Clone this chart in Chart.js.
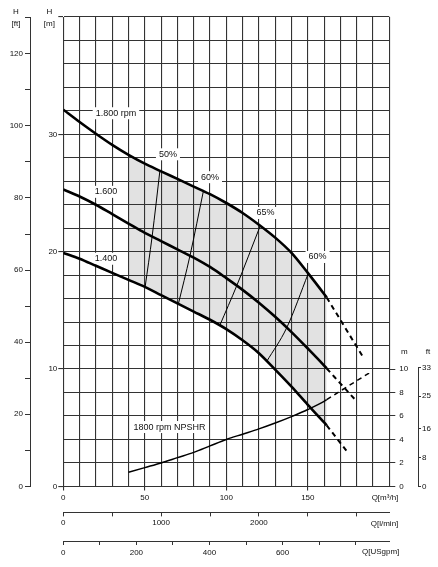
<!DOCTYPE html>
<html>
<head>
<meta charset="utf-8">
<title>Pump curves</title>
<script src="https://cdn.jsdelivr.net/npm/chart.js@4.4.1/dist/chart.umd.min.js"></script>
<style>
    html, body { margin: 0; padding: 0; background: #fff; }
    #pumpChart { display: block; }
</style>
</head>
<body>
<canvas id="pumpChart" width="438" height="567"></canvas>
<script>
// Flow points (m3/h) shared by the three speed curves, solid part
const qPoints = [0, 10, 20, 30, 40, 50, 60, 70, 80, 90, 100, 110, 120, 130, 140, 150, 160, 161.6];
const head1800 = [32.1, 31.05, 30.05, 29.1, 28.25, 27.5, 26.85, 26.2, 25.55, 24.9, 24.15, 23.3, 22.3, 21.2, 19.9, 18.2, 16.4, 16.1];
const head1600 = [25.3, 24.7, 24.0, 23.2, 22.4, 21.6, 20.9, 20.2, 19.5, 18.7, 17.75, 16.75, 15.65, 14.45, 13.15, 11.75, 10.3, 10.05];
const head1400 = [19.9, 19.4, 18.8, 18.2, 17.6, 17.0, 16.3, 15.6, 14.9, 14.2, 13.4, 12.45, 11.35, 9.95, 8.5, 6.95, 5.45, 5.2];

// Dashed extensions
const dashQ1800 = [161.6, 184];
const dashH1800 = [16.1, 11.0];
const dashQ1600 = [161.6, 179];
const dashH1600 = [10.05, 7.4];
const dashQ1400 = [161.6, 173.9];
const dashH1400 = [5.2, 3.0];

// NPSHR at 1800 rpm (m)
const npshQ = [40, 50, 60, 70, 80, 90, 100, 110, 120, 130, 140, 150, 160, 161.6];
const npshH = [1.2, 1.6, 2.0, 2.45, 2.9, 3.45, 4.0, 4.45, 4.9, 5.4, 5.95, 6.55, 7.25, 7.4];
const npshDashQ = [161.6, 189.2];
const npshDashH = [7.4, 9.8];

// Efficiency lines (from 1.400 curve up to 1.800 curve)
const eff50Q = [50.2, 54.5, 59.3];
const eff50H = [17.0, 21.3, 26.95];
const eff60aQ = [70.6, 77.7, 86];
const eff60aH = [15.55, 19.65, 25.2];
const eff65Q = [96.1, 106.4, 120.8];
const eff65H = [13.75, 17.1, 22.2];
const eff60bQ = [124.8, 137, 150.3];
const eff60bH = [10.65, 13.5, 18.15];

// Shaded working range
const shadeFrom = 40;

// Tick values
const lminTicks = [0, 500, 1000, 1500, 2000, 2500, 3000];
const gpmTicks = [0, 100, 200, 300, 400, 500, 600, 700, 800];
const npshMTicks = [0, 2, 4, 6, 8, 10];
const npshFtTicks = [0, 8, 16, 25, 33];

// Text labels on the chart (data coordinates)
const curveLabels = [
    { text: '1.800 rpm', q: 32.3, h: 31.8 },
    { text: '1.600', q: 26.2, h: 25.1 },
    { text: '1.400', q: 26.2, h: 19.4 },
    { text: '50%', q: 64.2, h: 28.3 },
    { text: '60%', q: 90.0, h: 26.35 },
    { text: '65%', q: 124.0, h: 23.3 },
    { text: '60%', q: 156.0, h: 19.55 },
    { text: '1800 rpm NPSHR', q: 65.2, h: 5.06 }
];

const INK = '#111';
const GRID = '#333';
const FONT = '"Liberation Sans", Arial, sans-serif';

function pts(qs, hs) {
    return qs.map((q, i) => ({ x: q, y: hs[i] }));
}

function curve(qs, hs, width, dashed) {
    return {
        data: pts(qs, hs),
        borderColor: '#000',
        borderWidth: width,
        borderDash: dashed ? [5, 4] : [],
        pointRadius: 0,
        fill: false,
        tension: 0.4,
        cubicInterpolationMode: 'monotone'
    };
}

// Texts and the short ft line on the right
const pumpTexts = {
    id: 'pumpTexts',
    beforeDatasetsDraw(chart) {
        const { ctx, scales } = chart;
        ctx.save();
        ctx.font = '9px ' + FONT;
        ctx.textAlign = 'center';
        ctx.textBaseline = 'middle';
        curveLabels.forEach(l => {
            const px = scales.x.getPixelForValue(l.q);
            const py = scales.y.getPixelForValue(l.h);
            const w = ctx.measureText(l.text).width;
            ctx.fillStyle = '#fff';
            ctx.fillRect(px - w / 2 - 3, py - 6, w + 6, 12);
            ctx.fillStyle = INK;
            ctx.fillText(l.text, px, py);
        });
        ctx.restore();
    },
    afterDraw(chart) {
        const { ctx, scales } = chart;
        ctx.save();
        ctx.fillStyle = INK;
        ctx.font = '8px ' + FONT;
        ctx.textBaseline = 'middle';

        // left headers
        ctx.textAlign = 'center';
        ctx.fillText('H', scales.yf.right - 14, 12);
        ctx.fillText('[ft]', scales.yf.right - 14, 24);
        ctx.fillText('H', scales.y.right - 14, 12);
        ctx.fillText('[m]', scales.y.right - 14, 24);

        // right headers
        const hy = scales.y.getPixelForValue(11.5);
        ctx.fillText('m', scales.yn.left + 15, hy);
        ctx.fillText('ft', scales.yft.left + 10, hy);

        // flow unit names
        ctx.textAlign = 'right';
        ctx.fillText('Q[m\u00b3/h]', scales.x.right + 9, scales.x.top + 11.5);
        ctx.fillText('Q[l/min]', scales.xl.right + 9, scales.xl.top + 11);
        ctx.fillText('Q[USgpm]', scales.xu.right + 10, scales.xu.top + 11);

        // ft line for the NPSH scale
        const fx = Math.round(scales.yft.left) + 0.5;
        ctx.strokeStyle = GRID;
        ctx.lineWidth = 1;
        ctx.beginPath();
        ctx.moveTo(fx, scales.yft.getPixelForValue(0));
        ctx.lineTo(fx, scales.yft.getPixelForValue(npshFtTicks[npshFtTicks.length - 1]));
        ctx.stroke();
        ctx.restore();
    }
};

function drawPumpChart() {
    const shadeQ = qPoints.filter(q => q >= shadeFrom);
    const shadeTop = head1800.filter((h, i) => qPoints[i] >= shadeFrom);
    const shadeBottom = head1400.filter((h, i) => qPoints[i] >= shadeFrom);

    const datasets = [
        {
            data: pts(shadeQ, shadeTop),
            borderWidth: 0,
            pointRadius: 0,
            backgroundColor: '#e2e2e2',
            fill: '+1',
            tension: 0.4,
            cubicInterpolationMode: 'monotone'
        },
        {
            data: pts(shadeQ, shadeBottom),
            borderWidth: 0,
            pointRadius: 0,
            fill: false,
            tension: 0.4,
            cubicInterpolationMode: 'monotone'
        },
        curve(qPoints, head1800, 2.6, false),
        curve(qPoints, head1600, 2.6, false),
        curve(qPoints, head1400, 2.6, false),
        curve(dashQ1800, dashH1800, 2, true),
        curve(dashQ1600, dashH1600, 2, true),
        curve(dashQ1400, dashH1400, 2, true),
        curve(npshQ, npshH, 1.5, false),
        curve(npshDashQ, npshDashH, 1.5, true),
        curve(eff50Q, eff50H, 1, false),
        curve(eff60aQ, eff60aH, 1, false),
        curve(eff65Q, eff65H, 1, false),
        curve(eff60bQ, eff60bH, 1, false)
    ];

    const tickFont = { family: FONT, size: 8 };
    const hidden = 'rgba(0,0,0,0)';

    new Chart(document.getElementById('pumpChart'), {
        type: 'line',
        data: { datasets: datasets },
        plugins: [pumpTexts],
        options: {
            responsive: false,
            animation: false,
            devicePixelRatio: 1,
            layout: { padding: { top: 17, bottom: 10, left: 0, right: 0 } },
            plugins: {
                legend: { display: false },
                tooltip: { enabled: false },
                filler: { drawTime: 'beforeDraw' }
            },
            scales: {
                x: {
                    type: 'linear', position: 'bottom', min: 0, max: 200, weight: 0,
                    grid: {
                        color: GRID, lineWidth: 1.1, tickLength: 4,
                        tickColor: c => (c.tick && c.tick.value % 50 === 0 && c.tick.value < 200) ? GRID : hidden
                    },
                    border: { display: true, color: GRID },
                    ticks: {
                        stepSize: 10, autoSkip: false, maxRotation: 0, padding: 3,
                        color: INK, font: tickFont,
                        callback: v => (v % 50 === 0 && v < 200) ? String(v) : ''
                    },
                    afterFit: s => { s.height = 26; }
                },
                xl: {
                    type: 'linear', position: 'bottom', min: 0, max: 200 * 1000 / 60, weight: 1,
                    grid: { drawOnChartArea: false, tickLength: 4, color: GRID },
                    border: { display: true, color: GRID },
                    afterBuildTicks: s => { s.ticks = lminTicks.map(v => ({ value: v })); },
                    ticks: {
                        autoSkip: false, maxRotation: 0, padding: 2, color: INK, font: tickFont,
                        callback: v => (v % 1000 === 0 && v < 3000) ? String(v) : ''
                    },
                    afterFit: s => { s.height = 28.6; }
                },
                xu: {
                    type: 'linear', position: 'bottom', min: 0, max: 892, weight: 2,
                    grid: { drawOnChartArea: false, tickLength: 4, color: GRID },
                    border: { display: true, color: GRID },
                    afterBuildTicks: s => { s.ticks = gpmTicks.map(v => ({ value: v })); },
                    ticks: {
                        autoSkip: false, maxRotation: 0, padding: 2.5, color: INK, font: tickFont,
                        callback: v => (v % 200 === 0 && v < 800) ? String(v) : ''
                    },
                    afterFit: s => { s.height = 16; }
                },
                y: {
                    type: 'linear', position: 'left', min: 0, max: 40, weight: 0,
                    grid: {
                        color: GRID, lineWidth: 1.1, tickLength: 5,
                        tickColor: c => (c.tick && c.tick.value % 10 === 0) ? GRID : hidden
                    },
                    border: { display: true, color: GRID },
                    ticks: {
                        stepSize: 2, autoSkip: false, padding: 1, color: INK, font: tickFont,
                        callback: v => (v % 10 === 0 && v < 40) ? String(v) : ''
                    },
                    afterFit: s => { s.width = 33.3; }
                },
                yf: {
                    type: 'linear', position: 'left', min: 0, max: 130.2, weight: 1,
                    grid: { drawOnChartArea: false, tickLength: 5, color: GRID },
                    border: { display: true, color: GRID },
                    ticks: {
                        stepSize: 10, autoSkip: false, padding: 2, color: INK, font: tickFont,
                        callback: v => (v % 20 === 0) ? String(v) : ''
                    },
                    afterFit: s => { s.width = 30; }
                },
                yn: {
                    type: 'linear', position: 'right', min: 0, max: 40, weight: 0,
                    grid: { drawOnChartArea: false, tickLength: 6, color: GRID },
                    border: { display: false },
                    afterBuildTicks: s => { s.ticks = npshMTicks.map(v => ({ value: v })); },
                    ticks: { autoSkip: false, padding: 4, color: INK, font: tickFont },
                    afterFit: s => { s.width = 28.7; }
                },
                yft: {
                    type: 'linear', position: 'right', min: 0, max: 130.2, weight: 1,
                    grid: { drawOnChartArea: false, tickLength: 3, color: GRID },
                    border: { display: false },
                    afterBuildTicks: s => { s.ticks = npshFtTicks.map(v => ({ value: v })); },
                    ticks: { autoSkip: false, padding: 1, color: INK, font: tickFont },
                    afterFit: s => { s.width = 20; }
                }
            }
        }
    });
}

document.addEventListener('DOMContentLoaded', drawPumpChart);
</script>
</body>
</html>
